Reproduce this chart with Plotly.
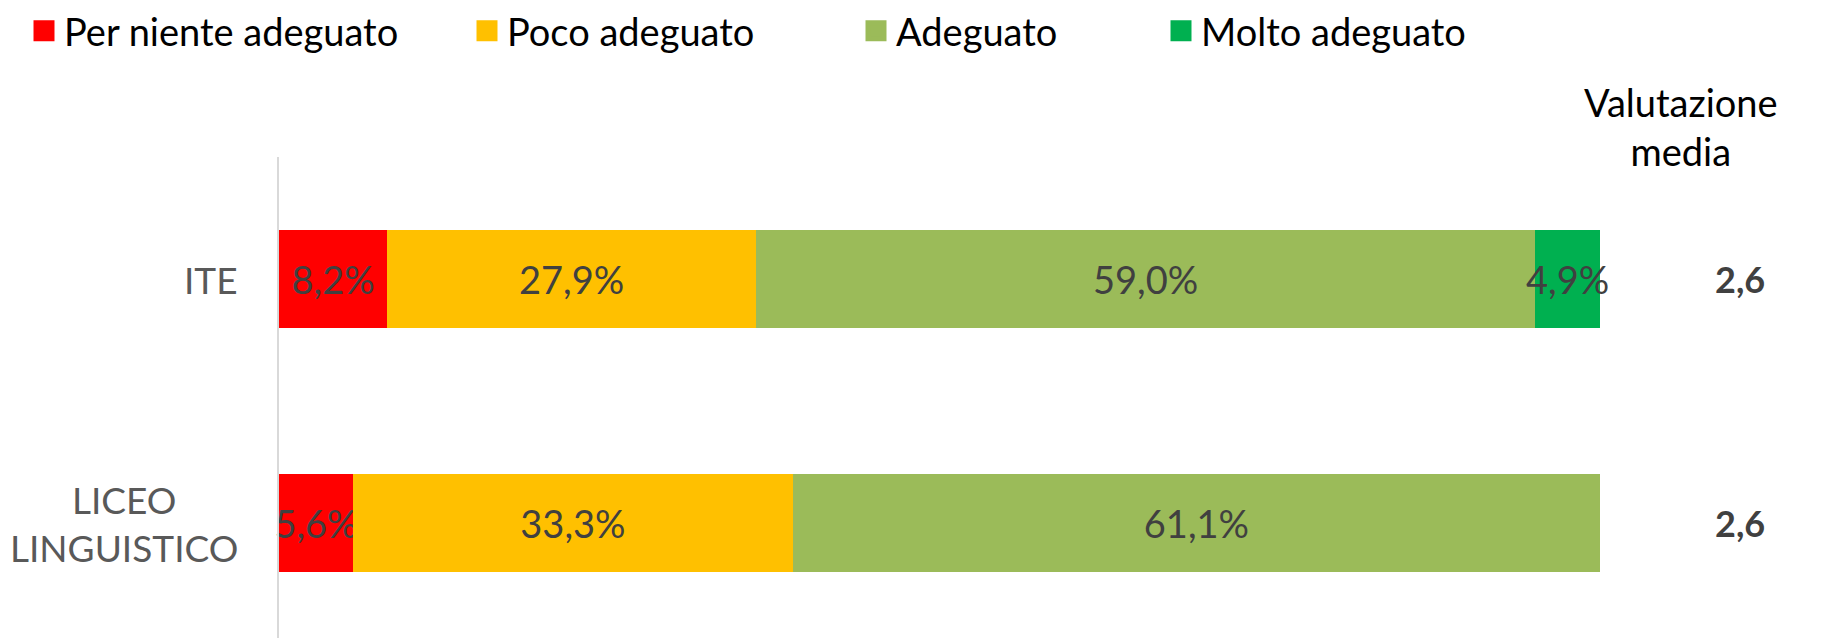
import plotly.graph_objects as go

categories = ["ITE", "LICEO<br>LINGUISTICO"]
series_names = ["Per niente adeguato", "Poco adeguato", "Adeguato", "Molto adeguato"]
series_colors = ["#FF0000", "#FFC000", "#9BBB59", "#00B050"]
per_niente = [8.2, 5.6]
poco = [27.9, 33.3]
adeguato = [59.0, 61.1]
molto = [4.9, 0.0]
media = [2.6, 2.6]
media_title = "Valutazione<br>media"

FONT = "Lato"
FS = 38
OFF = 8                      # default page margin of the html body
W, H = 1822, 638
ML = 279 - OFF               # axis line position
MT = 157 - OFF               # top of the axis line
plot_w = W - ML
plot_h = H - MT
bar_px = 1321                # pixel length of 100%
xmax = 100 * plot_w / bar_px
unit_px = 244                # distance between the two bars
y_bottom = -0.5 + plot_h / unit_px
legend_text_x = [66, 509, 898, 1203]

def fmt(v):
    return ("%.1f%%" % v).replace(".", ",") if v > 0 else ""

def px_x(px):
    return (px - OFF - ML) / plot_w

def px_y(py):
    return (H - (py - OFF)) / plot_h

fig = go.Figure()
for name, color, vals in zip(series_names, series_colors, [per_niente, poco, adeguato, molto]):
    fig.add_trace(go.Bar(
        y=categories, x=vals, name=name, orientation="h", showlegend=False,
        marker=dict(color=color, line=dict(width=0)),
        text=[fmt(v) for v in vals], textposition="inside", insidetextanchor="middle",
        textangle=0,
        textfont=dict(family=FONT, size=FS, color="#404040"),
        constraintext="none", cliponaxis=False, hoverinfo="skip",
    ))

# legend entries (one legend per series so spacing can follow the original)
legend_layout = {}
for i, (name, color) in enumerate(zip(series_names, series_colors)):
    lid = "legend" if i == 0 else "legend%d" % (i + 1)
    fig.add_trace(go.Scatter(
        x=[None], y=[None], mode="markers", name=name, legend=lid, showlegend=True,
        marker=dict(symbol="square", size=16, color=color, line=dict(width=5, color=color)),
        hoverinfo="skip",
    ))
    legend_layout[lid] = dict(
        orientation="h", x=px_x(legend_text_x[i] - 42), xanchor="left",
        y=px_y(31), yanchor="middle",
        font=dict(family=FONT, size=FS, color="#000000"),
        itemwidth=30, bgcolor="rgba(0,0,0,0)", borderwidth=0,
    )

# category labels (centered lines, right-aligned block)
for c in categories:
    fig.add_annotation(x=px_x(240), xref="paper", y=c, yref="y",
                       text=c, showarrow=False, xanchor="right", yanchor="middle",
                       align="center", font=dict(family=FONT, size=37, color="#595959"))

# mean rating
for c, m in zip(categories, media):
    fig.add_annotation(x=px_x(1740), xref="paper", y=c, yref="y",
                       text="<b>%s</b>" % ("%.1f" % m).replace(".", ","), showarrow=False,
                       xanchor="center", yanchor="middle",
                       font=dict(family=FONT, size=36, color="#404040"))
fig.add_annotation(x=px_x(1681), xref="paper", y=px_y(127), yref="paper",
                   text=media_title, showarrow=False, xanchor="center", yanchor="middle",
                   align="center", font=dict(family=FONT, size=FS, color="#000000"))

fig.update_layout(
    width=W, height=H, barmode="stack", bargap=0.595,
    margin=dict(l=ML, r=0, t=MT, b=0, autoexpand=False),
    paper_bgcolor="white", plot_bgcolor="white",
    uniformtext=dict(minsize=FS, mode="show"),
    showlegend=True,
    xaxis=dict(range=[0, xmax], visible=False, fixedrange=True),
    yaxis=dict(type="category", range=[y_bottom, -0.5], showticklabels=False,
               showline=True, linecolor="#D9D9D9", linewidth=2, ticks="",
               showgrid=False, zeroline=False, fixedrange=True),
    **legend_layout,
)

fig.write_html("out.html")
